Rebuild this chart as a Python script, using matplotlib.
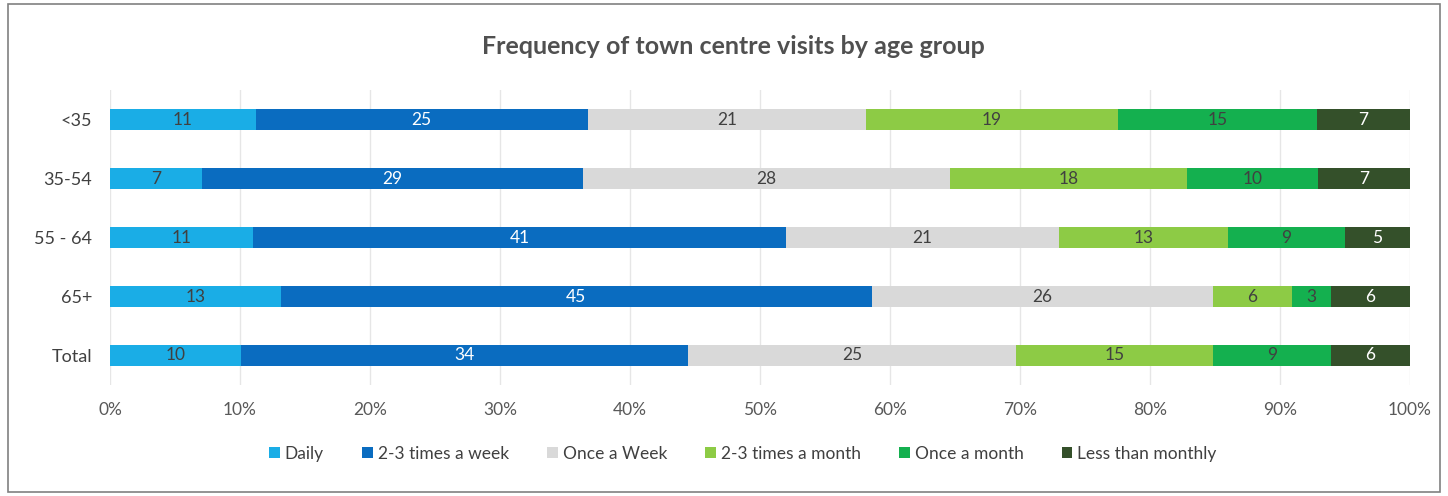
import matplotlib
matplotlib.use("Agg")
import matplotlib.pyplot as plt
from matplotlib.patches import Rectangle, Patch
import numpy as np

plt.rcParams['font.family'] = ['Lato', 'DejaVu Sans']

categories = ["<35", "35-54", "55 - 64", "65+", "Total"]
series_names = ["Daily", "2-3 times a week", "Once a Week", "2-3 times a month", "Once a month", "Less than monthly"]
daily = [11, 7, 11, 13, 10]
two_three_week = [25, 29, 41, 45, 34]
once_week = [21, 28, 21, 26, 25]
two_three_month = [19, 18, 13, 6, 15]
once_month = [15, 10, 9, 3, 9]
less_monthly = [7, 7, 5, 6, 6]
xtick_labels = ["0%", "10%", "20%", "30%", "40%", "50%", "60%", "70%", "80%", "90%", "100%"]

colors = ["#1AADE6", "#0A6CC0", "#D9D9D9", "#8DCB45", "#14B04F", "#34502A"]
label_colors = ["#404040", "white", "#404040", "#404040", "#404040", "white"]

data = np.array([daily, two_three_week, once_week, two_three_month, once_month, less_monthly], dtype=float)
totals = data.sum(axis=0)
shares = data / totals * 100

fig = plt.figure(figsize=(14.48, 4.96), dpi=100)
ax = fig.add_axes([110/1448, 1-385/496, 1300/1448, 295/496])

y = np.arange(len(categories))
left = np.zeros(len(categories))
for i, name in enumerate(series_names):
    ax.barh(y, shares[i], left=left, height=0.37, color=colors[i], label=name, zorder=2)
    for j in range(len(categories)):
        ax.text(left[j] + shares[i][j] / 2, y[j], f"{int(data[i][j])}",
                ha="center", va="center", fontsize=12.5, color=label_colors[i], zorder=3)
    left += shares[i]

ax.set_xlim(0, 100)
ax.set_ylim(len(categories) - 0.5, -0.5)
ax.set_yticks(y)
ax.set_yticklabels(categories, fontsize=13, color="#404040")
ax.set_xticks(np.arange(0, 101, 10))
ax.set_xticklabels(xtick_labels, fontsize=12.5, color="#595959")
ax.tick_params(axis="y", length=0, pad=13)
ax.tick_params(axis="x", length=0, pad=12)
ax.xaxis.grid(True, color="#E6E6E6", linewidth=1, zorder=0)
for s in ax.spines.values():
    s.set_visible(False)

fig.text(733/1448, 1-47/496, "Frequency of town centre visits by age group", ha="center", va="center",
         fontsize=18, fontweight="bold", color="#505050")

handles = [Patch(facecolor=c) for c in colors]
fig.legend(handles, series_names, loc="center", bbox_to_anchor=(743/1448, 1-454/496), ncol=6,
           frameon=False, fontsize=12.5, handlelength=0.6, handleheight=0.6, handletextpad=0.3,
           columnspacing=2.2, labelcolor="#404040")

fig.patches.append(Rectangle((8/1448, 4/496), 1 - 16/1448, 1 - 8/496, transform=fig.transFigure,
                             fill=False, edgecolor="#808080", linewidth=1.2))

fig.savefig("out.png", dpi=100)
